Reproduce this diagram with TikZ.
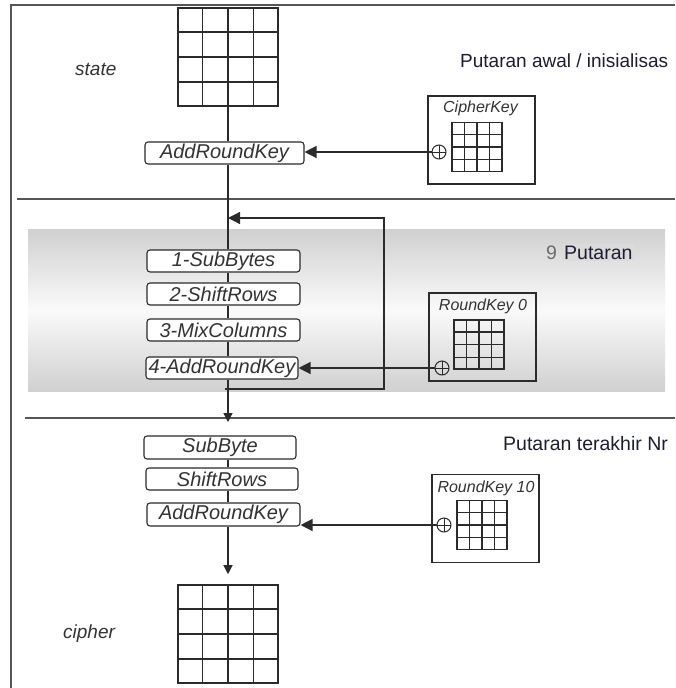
\documentclass[tikz,border=0pt]{standalone}
\usepackage{fontspec}
\setmainfont{Liberation Sans}
\usetikzlibrary{arrows.meta, calc}

\definecolor{linec}{HTML}{2B2B2B}
\definecolor{textc}{HTML}{333333}
\definecolor{framec}{HTML}{555555}
\definecolor{bandc}{HTML}{D0D0D0}
\definecolor{bandmid}{HTML}{FAFAFA}
\definecolor{titlec}{HTML}{1E1E30}

\newcommand{\matlines}[2]{%
  \foreach \k in {1,2,3}{
    \draw[#2] ($(#1.north west)!\k/4!(#1.north east)$) -- ($(#1.south west)!\k/4!(#1.south east)$);
    \draw[#2] ($(#1.north west)!\k/4!(#1.south west)$) -- ($(#1.north east)!\k/4!(#1.south east)$);
  }}

\begin{document}
\begin{tikzpicture}[x=1pt, y=-1pt,
    opbox/.style={draw=linec, fill=white, rounded corners=3pt, line width=1.1pt, minimum height=22pt, inner sep=0pt, text=textc, font=\fontsize{20}{24}\selectfont\itshape},
    keybox/.style={draw=linec, line width=1.3pt, minimum width=107pt, minimum height=88pt},
    keylabel/.style={anchor=base, inner sep=0pt, text=textc, font=\fontsize{16}{19}\selectfont\itshape},
    bigmat/.style={draw=linec, line width=1.6pt, minimum width=100pt, minimum height=98pt},
    keymat/.style={draw=linec, line width=1.2pt, minimum width=50pt, minimum height=49pt},
    namelabel/.style={anchor=base west, inner sep=0pt, text=textc, font=\fontsize{19}{23}\selectfont\itshape},
    title/.style={anchor=base west, inner sep=0pt, text=titlec, font=\fontsize{19.5}{23}\selectfont},
    xorsym/.style={circle, draw=linec, line width=1pt, minimum size=14pt, inner sep=0pt,
      path picture={\draw[linec, line width=1pt] (path picture bounding box.north) -- (path picture bounding box.south)
        (path picture bounding box.west) -- (path picture bounding box.east);}},
    wire/.style={draw=linec, line width=1.3pt},
    sidearrow/.style={wire, -{Triangle[length=12pt,width=12pt]}},
    downarrow/.style={wire, -{Triangle[length=9pt,width=9pt]}},
    sepline/.style={draw=framec, line width=2pt}]

\useasboundingbox (0,0) rectangle (675,688);
\fill[white] (0,0) rectangle (675,688);

\shade[top color=bandc, bottom color=bandc, middle color=bandmid] (28,229) rectangle (665,391);
\draw[sepline] (11,688) -- (11,5) -- (675,5);
\draw[sepline] (17,199) -- (675,199);
\draw[sepline] (25,418) -- (675,418);

\coordinate (sp) at (228,0);

\node[bigmat] (state) at (228,57) {};
\node[bigmat] (cipher) at (228,634) {};
\matlines{state}{linec, line width=1.6pt}
\matlines{cipher}{linec, line width=1.6pt}
\node[namelabel] (statelbl) at (75,75) {state};
\node[namelabel] (cipherlbl) at (63,638) {cipher};

\node[title, font=\fontsize{19}{23}\selectfont] (ttlawal) at (460,67) {Putaran awal / inisialisas};
\node[title, text=gray!85!black] (ttlnine) at (546,259) {9};
\node[title, fill=black!14, inner xsep=1pt, inner ysep=2pt] (ttlputaran) at (563,259) {Putaran};
\node[title] (ttlakhir) at (503,450) {Putaran terakhir Nr};

\node[opbox, minimum width=159pt] (ark0) at (224.5,153) {AddRoundKey};

\node[opbox, minimum width=153pt] (sub1) at (223.5,261) {1-SubBytes};
\node[opbox, minimum width=153pt] (shf1) at (223.5,294) {2-ShiftRows};
\node[opbox, minimum width=153pt] (mix1) at (223.5,330) {3-MixColumns};
\node[opbox, minimum width=152pt] (ark1) at (222,368) {4-AddRoundKey};

\node[opbox, minimum width=152pt, minimum height=23pt] (subL) at (220,447.5) {SubByte};
\node[opbox, minimum width=152pt] (shfL) at (222,479) {ShiftRows};
\node[opbox, minimum width=153pt, minimum height=23pt] (arkL) at (223.5,514.5) {AddRoundKey};

\node[keybox] (ck) at (481.5,140) {};
\node[keylabel] (cklbl) at (480.5,112) {CipherKey};
\node[keymat] (ckm) at (477,147) {};
\matlines{ckm}{linec, line width=1.1pt}
\node[xorsym] (ckx) at (439,152) {};

\node[keybox] (rk0) at (482.5,337) {};
\node[keylabel] (rk0lbl) at (483,310) {RoundKey 0};
\node[keymat] (rk0m) at (479,344.5) {};
\matlines{rk0m}{linec, line width=1.1pt}
\node[xorsym] (rk0x) at (442,368) {};

\node[keybox] (rk10) at (485.5,518.5) {};
\node[keylabel] (rk10lbl) at (486,492) {RoundKey 10};
\node[keymat] (rk10m) at (482,525) {};
\matlines{rk10m}{linec, line width=1.1pt}
\node[xorsym] (rk10x) at (444,525) {};

\foreach \a/\b in {state/ark0, ark0/sub1, sub1/shf1, shf1/mix1, mix1/ark1, subL/shfL, shfL/arkL}
  \draw[wire] (sp |- \a.south) -- (sp |- \b.north);

\coordinate (roundend) at (228,422);
\draw[downarrow] (sp |- ark1.south) -- (roundend);
\draw[downarrow, shorten >=10pt] (sp |- arkL.south) -- (sp |- cipher.north);

\coordinate (loopout) at (225,389);
\coordinate (loopcorner) at (384,218);
\coordinate (loopin) at (228,218);
\draw[sidearrow] (loopout) -| (loopcorner) -- (loopin);

\draw[sidearrow] (ckx) -- (ckx -| ark0.east);
\draw[sidearrow] (rk0x) -- (rk0x -| ark1.east);
\draw[sidearrow] (rk10x) -- (rk10x -| arkL.east);
\end{tikzpicture}
\end{document}
